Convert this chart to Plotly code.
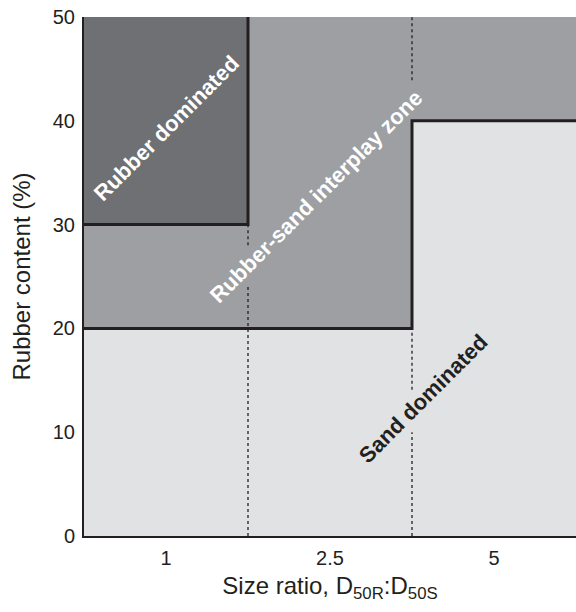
import plotly.graph_objects as go

# Size-ratio classes (D50R:D50S) and zone boundaries in rubber content (%)
size_ratios = ["1", "2.5", "5"]
sand_upper = [20, 20, 40]      # top of the sand-dominated zone
rubber_lower = [30, 50, 50]    # bottom of the rubber-dominated zone (50 = absent)
y_max = 50
y_ticks = [0, 10, 20, 30, 40, 50]

# Dotted class dividers: x position and visible y-segments (gaps leave room for labels)
divider_x = [0.5, 1.5]
divider_segments = [
    [(0, 24.2), (28.0, 30)],
    [(0, 10.0), (14.1, 20), (43.9, 50)],
]

zone_names = ["Sand dominated", "Rubber-sand interplay zone", "Rubber dominated"]
zone_colors = ["#e1e2e4", "#9e9fa2", "#6f7074"]
ink = "#231f20"
font_family = "Liberation Sans, Arial, sans-serif"

idx = list(range(len(size_ratios)))
interplay_h = [r - s for r, s in zip(rubber_lower, sand_upper)]
rubber_h = [y_max - r for r in rubber_lower]

fig = go.Figure()
for name, heights, col in zip(zone_names, [sand_upper, interplay_h, rubber_h], zone_colors):
    fig.add_trace(go.Bar(x=idx, y=heights, width=1, name=name,
                         marker=dict(color=col, line=dict(width=0)),
                         showlegend=False, hoverinfo="skip"))

# Dotted dividers between size-ratio classes
for xd, segs in zip(divider_x, divider_segments):
    for y0, y1 in segs:
        fig.add_trace(go.Scatter(x=[xd, xd], y=[y0, y1], mode="lines",
                                 line=dict(color=ink, width=1.3, dash="dot"),
                                 showlegend=False, hoverinfo="skip"))

# Sand-zone boundary (step line)
edges = [i - 0.5 for i in idx] + [idx[-1] + 0.5]
fig.add_trace(go.Scatter(x=edges, y=sand_upper + [sand_upper[-1]], mode="lines",
                         line=dict(color=ink, width=3, shape="hv"),
                         showlegend=False, hoverinfo="skip"))

# Rubber-zone boundary, drawn only where the zone exists
bx, by = [], []
for i, r in zip(idx, rubber_lower):
    if r < y_max:
        bx += [i - 0.5, i + 0.5]
        by += [r, r]
        nxt = rubber_lower[i + 1] if i + 1 < len(rubber_lower) else y_max
        bx.append(i + 0.5)
        by.append(nxt)
fig.add_trace(go.Scatter(x=bx, y=by, mode="lines",
                         line=dict(color=ink, width=3),
                         showlegend=False, hoverinfo="skip"))

# Zone labels
labels = [
    (zone_names[2], 0.0, 39.3, "white"),
    (zone_names[1], 0.915, 32.75, "white"),
    (zone_names[0], 1.57, 13.2, ink),
]
for text, x, y, col in labels:
    fig.add_annotation(x=x, y=y, text=f"<b>{text}</b>", showarrow=False,
                       textangle=-45, font=dict(family=font_family, size=22, color=col))

fig.update_layout(
    width=576, height=612,
    margin=dict(l=84, r=0, t=17, b=76),
    paper_bgcolor="white", plot_bgcolor="white",
    barmode="stack", bargap=0,
    font=dict(family=font_family, size=20, color=ink),
)
fig.update_xaxes(range=[-0.5, 2.5], tickvals=idx, ticktext=size_ratios,
                 showgrid=False, zeroline=False, showline=True, linecolor=ink, linewidth=2,
                 ticks="", ticklabelstandoff=3,
                 title=dict(text="Size ratio, D<sub>50R</sub>:D<sub>50S</sub>", standoff=9,
                            font=dict(size=24)))
fig.update_yaxes(range=[0, y_max], tickvals=y_ticks,
                 showgrid=False, zeroline=False, showline=True, linecolor=ink, linewidth=2,
                 ticks="", ticklabelstandoff=3,
                 title=dict(text="Rubber content (%)", standoff=15, font=dict(size=24)))

fig.write_html("out.html")
